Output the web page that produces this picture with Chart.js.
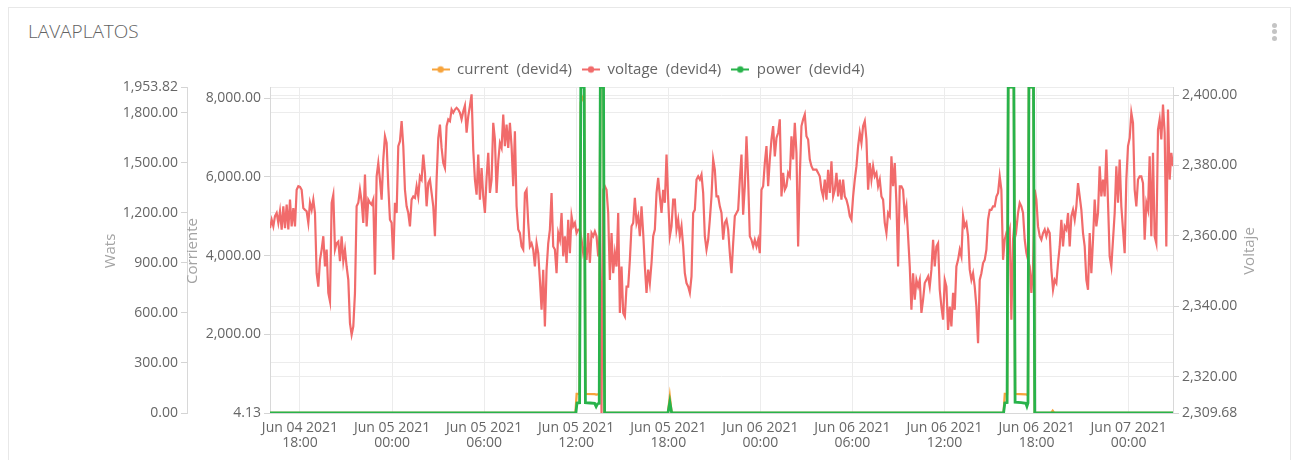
<!DOCTYPE html>
<html>
<head>
<meta charset="utf-8">
<script src="https://cdn.jsdelivr.net/npm/chart.js@4.4.0/dist/chart.umd.min.js"></script>
<style>
html,body{margin:0;padding:0;background:#fff;}
body{width:1296px;height:460px;overflow:hidden;position:relative;font-family:'Open Sans',sans-serif;}
.card{position:absolute;left:8px;top:7px;width:1283px;height:480px;border:1px solid #e8e8e8;box-sizing:border-box;}
.title{position:absolute;left:28px;top:22px;font-size:19px;line-height:19px;font-weight:300;color:#626262;}
.dot{position:absolute;left:1272px;width:5px;height:5px;border-radius:50%;background:#c4c4c4;}
#chart{position:absolute;left:0;top:0;}
</style>
</head>
<body>
<div class="card"></div>
<div class="title">LAVAPLATOS</div>
<div class="dot" style="top:23px"></div>
<div class="dot" style="top:29px"></div>
<div class="dot" style="top:36px"></div>
<canvas id="chart" width="1296" height="460"></canvas>
<script>
// ---- x axis (hours since Jun 04 2021 00:00) ----
const xMinHour = 16.046;
const xMaxHour = 74.89;
const xTickHours = [18, 24, 30, 36, 42, 48, 54, 60, 66, 72];
const xTickLabels = [
  ["Jun 04 2021", "18:00"], ["Jun 05 2021", "00:00"], ["Jun 05 2021", "06:00"],
  ["Jun 05 2021", "12:00"], ["Jun 05 2021", "18:00"], ["Jun 06 2021", "00:00"],
  ["Jun 06 2021", "06:00"], ["Jun 06 2021", "12:00"], ["Jun 06 2021", "18:00"],
  ["Jun 07 2021", "00:00"]
];

// ---- y axes ----
const watsTicks = [0, 300, 600, 900, 1200, 1500, 1800, 1953.82];
const watsMin = 0, watsMax = 1953.82;
const corrienteTicks = [4.13, 2000, 4000, 6000, 8000];
const corrienteMin = 4.13, corrienteMax = 8286;
const voltajeTicks = [2309.68, 2320, 2340, 2360, 2380, 2400];
const voltajeMin = 2309.68, voltajeMax = 2402.3;

// ---- voltage (devid4): regular samples ----
const voltageStartHour = 16.046;
const voltageIntervalMin = 6.514;
const voltageValues = [
2362.2,2364.6,2362.7,2365.6,2366.5,2363.7,2367.0,2361.8,2368.4,2362.2,
2368.9,2361.8,2370.3,2362.7,2367.9,2362.7,2373.1,2374.1,2373.9,2373.1,
2367.9,2367.4,2367.0,2363.7,2369.4,2367.4,2370.3,2366.5,2349.4,2345.6,
2353.2,2356.1,2359.9,2351.3,2356.1,2343.8,2341.4,2369.4,2371.7,2356.1,
2357.9,2358.4,2352.8,2359.9,2352.8,2356.1,2351.3,2347.5,2335.2,2331.9,
2334.3,2343.8,2368.4,2369.4,2373.1,2369.8,2363.7,2377.4,2362.7,2370.3,
2369.4,2368.9,2370.3,2349.0,2376.9,2380.7,2376.0,2370.3,2381.7,2388.3,
2386.4,2374.1,2364.6,2363.7,2353.2,2369.4,2366.5,2385.5,2386.9,2392.6,
2385.5,2373.1,2368.4,2366.5,2362.7,2370.3,2371.2,2370.8,2374.1,2371.2,
2376.9,2376.0,2383.1,2377.9,2368.4,2375.0,2376.0,2372.2,2368.4,2359.9,
2376.0,2387.8,2391.6,2385.0,2380.7,2379.3,2391.2,2393.1,2392.6,2395.9,
2395.0,2395.9,2396.4,2395.9,2395.0,2393.1,2395.4,2397.0,2389.3,2394.0,
2396.9,2400.2,2384.5,2376.0,2371.7,2383.1,2370.3,2379.3,2371.2,2366.5,
2376.5,2383.6,2372.2,2376.0,2392.1,2387.4,2372.2,2381.2,2386.4,2385.0,
2394.5,2385.5,2391.6,2385.0,2392.1,2385.5,2374.1,2389.7,2368.4,2361.8,
2360.8,2357.0,2356.1,2372.2,2373.1,2363.7,2357.0,2357.9,2356.1,2351.3,
2357.9,2355.1,2347.5,2339.0,2350.4,2334.3,2350.4,2357.9,2361.8,2372.2,
2357.0,2356.1,2349.4,2360.8,
2358.9,2366.5,2354.2,2359.9,2352.3,2364.6,2355.1,2365.6,2362.7,2363.7,
2360.8,2361.8,2361.8,2358.9,2355.1,2357.0,2353.2,2360.8,2352.3,2360.8,
2359.9,2361.3,2359.9,2354.2,2359.9,2309.68,2373.1,2374.1,2373.1,2366.5,
2347.5,2360.8,2349.4,2355.1,2351.3,2366.5,2338.1,2351.3,2338.1,2337.1,
2345.6,2345.6,2353.2,2362.7,2363.7,2370.8,2363.7,2365.6,2359.9,2368.4,
2360.8,2351.3,2343.8,2350.4,2346.6,2352.3,2359.9,2361.8,2372.2,2376.5,
2371.2,2366.5,2373.1,2369.4,2383.1,2370.3,2359.9,2362.7,2370.3,2370.3,
2361.8,2364.6,2359.9,2362.7,2357.0,2349.4,2346.6,2345.6,2343.8,2348.5,
2366.5,2367.4,2376.0,2376.9,2376.0,2377.4,2372.2,2359.9,2356.1,2358.9,
2364.6,2371.2,2381.7,2378.8,2371.2,2371.2,2368.4,2366.5,2358.9,2363.7,
2364.6,2361.8,2355.1,2349.4,2357.9,2365.6,2366.5,2367.4,2376.0,2383.1,
2366.0,2374.1,2388.3,2376.0,2359.9,2358.9,2357.0,2358.9,2357.0,2358.9,
2355.1,2373.1,2374.1,2380.7,2385.5,2374.1,2381.7,2387.4,2391.2,2382.6,
2387.8,2389.3,2393.1,2371.2,2377.9,2373.1,2374.1,2377.9,2376.9,2388.3,
2381.7,2392.1,2383.6,2357.0,2376.9,2391.2,2393.1,2394.5,2388.3,2387.4,
2381.7,2379.8,2378.8,2378.8,2378.8,2377.9,2376.9,2373.1,2371.2,2376.0,
2370.3,2378.8,2372.2,2381.2,2371.2,2373.1,2377.9,2371.2,2376.0,2370.3,
2376.0,2371.2,2370.3,2368.4,2365.6,2364.6,2371.2,2376.0,2379.8,2385.5,
2389.3,2386.4,2391.2,2392.6,2387.4,2373.1,2380.7,2376.0,2379.8,2376.9,
2377.9,2374.1,2376.0,2371.2,2370.3,2363.7,2360.8,2366.5,2365.6,2382.6,
2374.1,2380.7,2369.4,2351.3,2374.1,2374.1,2373.1,2365.6,2368.4,2359.9,
2351.3,2339.0,2349.4,2341.9,2347.5,2345.6,2347.5,2338.1,2341.9,2346.6,
2347.5,2348.5,2345.6,2350.4,2358.9,2351.3,2357.0,2357.9,2344.7,2339.9,
2336.2,2347.5,2345.6,2333.3,2339.9,2334.3,2343.8,2339.0,2351.3,2353.2,
2356.1,2354.2,2365.6,2362.7,2363.7,2359.9,2350.4,2347.5,2349.4,2345.6,
2339.9,2329.5,2347.5,2349.4,2352.3,2353.2,2356.1,2364.6,2367.4,2367.4,
2368.4,2368.4,2371.2,2372.2,2376.9,2373.1,2353.2,2358.9,2360.8,2359.9,
2361.8,2336.2,2358.9,2364.6,2361.8,2366.5,2369.4,2368.4,2366.5,2358.9,
2355.1,2353.2,2351.3,2343.8,2351.3,2373.1,2370.3,2362.7,2359.9,2358.9,
2360.8,2361.8,2359.9,2361.8,2360.8,2350.4,2344.7,2347.5,2346.6,2352.3,
2357.0,2364.6,2357.0,2362.7,2361.8,2366.5,2357.0,2365.6,2367.4,2364.6,
2368.4,2375.0,2371.2,2367.4,2360.8,2357.0,2347.5,2344.7,2360.8,2349.4,
2358.9,2370.3,2362.7,2366.5,2379.8,2371.2,2376.0,2371.2,2384.5,2369.4,
2354.2,2351.3,2358.9,2366.5,2379.8,2369.4,2381.7,2368.4,2361.8,2355.1,
2376.0,2385.5,2387.8,2395.0,2392.1,2373.1,2368.4,2376.0,2376.9,2376.9,
2375.0,2358.9,2369.4,2367.4,2382.6,2359.9,2383.6,2359.9,2357.9,2390.2,
2393.1,2387.4,2397.3,2389.3,2357.0,2395.9,2376.0,2383.6,2379.8
];

// ---- power (devid4), Wats ----
const powerHours = [16.046,35.98,36.05,36.22,36.30,36.52,36.60,36.90,37.20,37.30,37.40,37.50,37.57,37.78,37.85,
  41.98,42.10,42.22,
  63.85,63.93,64.08,64.15,64.52,64.60,65.00,65.30,65.37,65.44,65.50,65.80,65.88,
  74.89];
const powerValues = [0,0,60,62,1953.82,1953.82,62,60,58,38,56,58,1953.82,1953.82,0,
  0,66,0,
  0,60,62,1953.82,1953.82,65,62,58,40,60,1953.82,1953.82,0,
  0];

// ---- current (devid4), Corriente ----
const currentHours = [16.046,35.95,36.03,36.22,36.30,36.52,36.60,37.20,37.30,37.40,37.50,37.57,37.78,37.85,
  41.98,42.10,42.22,
  63.85,63.93,64.08,64.15,64.52,64.60,65.30,65.37,65.44,65.50,65.80,65.88,
  66.95,67.05,67.15,
  74.89];
const currentValues = [4.13,4.13,490,495,7900,8100,490,485,470,480,485,8286,8286,4.13,
  4.13,420,4.13,
  4.13,490,495,8286,8286,490,480,470,485,8286,8286,4.13,
  4.13,60,4.13,
  4.13];

const seriesLabels = ["current  (devid4)", "voltage  (devid4)", "power  (devid4)"];
const seriesColors = ["#F7A43C", "#F16B6B", "#28B34B"];

// ---------------------------------------------------------------
const fontFam = "'Open Sans', sans-serif";
const gridColor = "#ececec";
const tickMarkColor = "#d4d4d4";
const axisBorderColor = "#d8d8d8";
const fmt = v => Number(v).toLocaleString('en-US', {minimumFractionDigits: 2, maximumFractionDigits: 2});

function makeMarker(color) {
  const c = document.createElement('canvas');
  c.width = 18; c.height = 10;
  const g = c.getContext('2d');
  g.strokeStyle = color; g.lineWidth = 2;
  g.beginPath(); g.moveTo(0, 5); g.lineTo(18, 5); g.stroke();
  g.fillStyle = color;
  g.beginPath(); g.arc(9, 5, 3.2, 0, Math.PI * 2); g.fill();
  return c;
}
const markers = seriesColors.map(makeMarker);

function yAxis(position, weight, min, max, tickArr, width) {
  return {
    type: 'linear', position, weight, min, max,
    afterBuildTicks: s => { s.ticks = tickArr.map(v => ({value: v})); },
    afterFit: s => { s.width = width; },
    ticks: { autoSkip: false, color: '#666', font: {family: fontFam, size: 14}, padding: 3, callback: v => fmt(v) },
    grid: { color: gridColor, tickColor: tickMarkColor, tickLength: 6, drawTicks: true },
    border: { color: axisBorderColor }
  };
}

const axisTitles = [
  {text: 'Wats', axis: 'yWats', dx: 95},
  {text: 'Corriente', axis: 'yCorriente', dx: 10},
  {text: 'Voltaje', axis: 'yVoltaje', dx: 80.5}
];
const axisTitlePlugin = {
  id: 'axisTitles',
  afterDraw(chart) {
    const ctx = chart.ctx;
    const ca = chart.chartArea;
    const cy = (ca.top + ca.bottom) / 2 + 1;
    ctx.save();
    ctx.fillStyle = '#a3a3a3';
    ctx.font = "15px " + fontFam;
    ctx.textAlign = 'center';
    ctx.textBaseline = 'alphabetic';
    axisTitles.forEach(t => {
      const sc = chart.scales[t.axis];
      ctx.save();
      ctx.translate(sc.left + t.dx, cy);
      ctx.rotate(-Math.PI / 2);
      ctx.fillText(t.text, 0, 0);
      ctx.restore();
    });
    ctx.restore();
  }
};

new Chart(document.getElementById('chart'), {
  type: 'line',
  data: {
    datasets: [
      {
        label: seriesLabels[0],
        data: currentHours.map((h, i) => ({x: h, y: currentValues[i]})),
        yAxisID: 'yCorriente',
        borderColor: seriesColors[0], backgroundColor: seriesColors[0],
        borderWidth: 2.3, pointRadius: 0, tension: 0, order: 1
      },
      {
        label: seriesLabels[1],
        data: voltageValues.map((v, i) => ({x: voltageStartHour + i * voltageIntervalMin / 60, y: v})),
        yAxisID: 'yVoltaje',
        borderColor: seriesColors[1], backgroundColor: seriesColors[1],
        borderWidth: 2.2, pointRadius: 0, tension: 0, order: 2
      },
      {
        label: seriesLabels[2],
        data: powerHours.map((h, i) => ({x: h, y: powerValues[i]})),
        yAxisID: 'yWats',
        borderColor: seriesColors[2], backgroundColor: seriesColors[2],
        borderWidth: 2.8, pointRadius: 0, tension: 0, order: 0
      }
    ]
  },
  options: {
    responsive: false,
    animation: false,
    events: [],
    layout: { padding: {top: 52, left: 20, right: 20, bottom: 0} },
    plugins: {
      tooltip: { enabled: false },
      legend: {
        display: true, position: 'top', align: 'center',
        labels: {
          usePointStyle: true, pointStyleWidth: 18, padding: 10,
          color: '#666', font: {family: fontFam, size: 15},
          sort: (a, b) => a.datasetIndex - b.datasetIndex,
          generateLabels: chart => {
            const items = Chart.defaults.plugins.legend.labels.generateLabels(chart);
            items.forEach(it => { it.pointStyle = markers[it.datasetIndex]; });
            return items;
          }
        }
      }
    },
    scales: {
      x: {
        type: 'linear', min: xMinHour, max: xMaxHour,
        afterBuildTicks: s => { s.ticks = xTickHours.map(v => ({value: v})); },
        afterFit: s => { s.height = 47; },
        ticks: {
          autoSkip: false, maxRotation: 0, minRotation: 0, padding: 7,
          color: '#666', font: {family: fontFam, size: 14, lineHeight: 1.1},
          callback: v => { const i = xTickHours.indexOf(v); return i >= 0 ? xTickLabels[i] : ''; }
        },
        grid: { color: gridColor, drawTicks: false },
        border: { color: axisBorderColor }
      },
      yWats: yAxis('left', 1, watsMin, watsMax, watsTicks, 167),
      yCorriente: yAxis('left', 0, corrienteMin, corrienteMax, corrienteTicks, 83),
      yVoltaje: yAxis('right', 0, voltajeMin, voltajeMax, voltajeTicks, 103)
    }
  },
  plugins: [axisTitlePlugin]
});
</script>
</body>
</html>
